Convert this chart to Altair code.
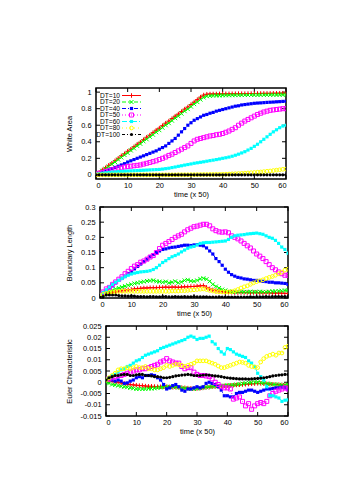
import altair as alt
import pandas as pd

T = list(range(61))
SERIES = ["DT=10", "DT=20", "DT=40", "DT=50", "DT=60", "DT=80", "DT=100"]
COLORS = ["#ff0000", "#00ff00", "#0000ff", "#ff00ff", "#00ffff", "#ffff00", "#000000"]
DASHES = [[1, 0], [4, 2], [4, 2, 1, 2, 1, 2], [1, 2], [5, 2, 1, 2], [1, 3], [3, 2, 1, 2]]
SHAPES = ["M-1,0H1M0,-1V1", "M-1,-1L1,1M-1,1L1,-1", "square", "square", "square", "circle", "circle"]
FILLED = [False, False, True, False, True, False, True]
SIZES = [20, 16, 10, 16, 10, 14, 10]
XTICKS = [0, 10, 20, 30, 40, 50, 60]

# ---------------- White Area ----------------
WA_10 = [0.00, 0.03, 0.06, 0.085, 0.115, 0.14, 0.17, 0.2, 0.23, 0.255,
         0.285, 0.31, 0.34, 0.37, 0.395, 0.425, 0.455, 0.48, 0.51, 0.54,
         0.565, 0.595, 0.625, 0.65, 0.68, 0.71, 0.735, 0.765, 0.795, 0.82,
         0.85, 0.88, 0.91, 0.94, 0.965, 0.975, 0.977, 0.978, 0.978, 0.979,
         0.98, 0.98, 0.98, 0.981, 0.981, 0.982, 0.982, 0.982, 0.983, 0.983,
         0.983, 0.984, 0.984, 0.985, 0.985, 0.985, 0.986, 0.986, 0.987, 0.987, 0.988]
WA_20 = [0.0, 0.02, 0.05, 0.075, 0.1, 0.13, 0.155, 0.185, 0.21, 0.24,
         0.265, 0.295, 0.32, 0.35, 0.375, 0.405, 0.43, 0.46, 0.485, 0.515,
         0.54, 0.57, 0.6, 0.625, 0.655, 0.685, 0.71, 0.74, 0.77, 0.795,
         0.825, 0.855, 0.88, 0.91, 0.935, 0.95, 0.955, 0.958, 0.96, 0.96,
         0.962, 0.962, 0.963, 0.963, 0.964, 0.964, 0.965, 0.965, 0.965, 0.966,
         0.966, 0.966, 0.967, 0.967, 0.967, 0.968, 0.968, 0.968, 0.969, 0.969, 0.97]
WA_40 = [0.0, 0.015, 0.03, 0.045, 0.06, 0.075, 0.09, 0.105, 0.12, 0.135,
         0.155, 0.17, 0.185, 0.2, 0.215, 0.23, 0.245, 0.26, 0.275, 0.29,
         0.31, 0.33, 0.35, 0.38, 0.41, 0.44, 0.48, 0.52, 0.56, 0.6,
         0.63, 0.66, 0.68, 0.70, 0.72, 0.73, 0.745, 0.755, 0.77, 0.78,
         0.79, 0.8, 0.81, 0.82, 0.83, 0.835, 0.845, 0.85, 0.855, 0.86,
         0.865, 0.868, 0.87, 0.873, 0.876, 0.878, 0.88, 0.883, 0.885, 0.888, 0.89]
WA_50 = [0.01, 0.02, 0.03, 0.04, 0.05, 0.06, 0.07, 0.08, 0.085, 0.095,
         0.1, 0.105, 0.11, 0.115, 0.12, 0.13, 0.14, 0.15, 0.16, 0.17,
         0.185, 0.2, 0.215, 0.235, 0.25, 0.27, 0.29, 0.31, 0.33, 0.35,
         0.38, 0.41, 0.43, 0.44, 0.45, 0.46, 0.47, 0.475, 0.485, 0.49,
         0.5, 0.515, 0.53, 0.55, 0.57, 0.6, 0.625, 0.65, 0.67, 0.69,
         0.71, 0.73, 0.745, 0.76, 0.77, 0.78, 0.785, 0.79, 0.795, 0.8, 0.8]
WA_60 = [0.01, 0.015, 0.02, 0.025, 0.03, 0.033, 0.036, 0.039, 0.042, 0.044,
         0.046, 0.048, 0.05, 0.052, 0.054, 0.056, 0.058, 0.06, 0.062, 0.064,
         0.066, 0.07, 0.075, 0.08, 0.088, 0.095, 0.103, 0.11, 0.118, 0.125,
         0.132, 0.14, 0.146, 0.152, 0.158, 0.165, 0.172, 0.178, 0.185, 0.192,
         0.2, 0.207, 0.215, 0.225, 0.237, 0.25, 0.265, 0.28, 0.3, 0.32,
         0.345, 0.37, 0.4, 0.43, 0.46, 0.49, 0.52, 0.545, 0.57, 0.59, 0.6]
WA_80 = [0.0, 0.0, 0.0, 0.0, 0.0, 0.0, 0.0, 0.0, 0.0, 0.0,
         0.0, 0.0, 0.0, 0.0, 0.0, 0.0, 0.0, 0.0, 0.0, 0.0,
         0.0, 0.0, 0.0, 0.0, 0.0, 0.0, 0.001, 0.001, 0.001, 0.001,
         0.002, 0.002, 0.003, 0.003, 0.004, 0.004, 0.005, 0.005, 0.006, 0.006,
         0.007, 0.008, 0.01, 0.012, 0.014, 0.016, 0.018, 0.02, 0.023, 0.026,
         0.029, 0.032, 0.035, 0.039, 0.043, 0.047, 0.052, 0.057, 0.062, 0.067, 0.07]
WA_100 = [0.0] * 61

# ---------------- Boundary Length ----------------
BL_10 = [0.005, 0.01, 0.013, 0.016, 0.018, 0.02, 0.022, 0.024, 0.026, 0.027,
         0.028, 0.03, 0.031, 0.032, 0.033, 0.033, 0.034, 0.034, 0.034, 0.035,
         0.035, 0.036, 0.035, 0.036, 0.036, 0.035, 0.036, 0.037, 0.037, 0.038,
         0.038, 0.039, 0.04, 0.041, 0.035, 0.03, 0.027, 0.025, 0.023, 0.021,
         0.02, 0.019, 0.019, 0.018, 0.018, 0.018, 0.018, 0.018, 0.017, 0.018,
         0.018, 0.017, 0.017, 0.017, 0.017, 0.016, 0.016, 0.016, 0.016, 0.015, 0.015]
BL_20 = [0.008, 0.012, 0.018, 0.022, 0.026, 0.03, 0.033, 0.036, 0.039, 0.042,
         0.045, 0.048, 0.05, 0.052, 0.054, 0.056, 0.057, 0.058, 0.055, 0.054,
         0.052, 0.054, 0.05, 0.052, 0.055, 0.05, 0.053, 0.058, 0.06, 0.056,
         0.055, 0.058, 0.063, 0.065, 0.062, 0.055, 0.045, 0.038, 0.033, 0.028,
         0.025, 0.022, 0.02, 0.02, 0.021, 0.021, 0.02, 0.02, 0.021, 0.02,
         0.02, 0.021, 0.02, 0.02, 0.021, 0.022, 0.022, 0.023, 0.024, 0.025, 0.025]
BL_40 = [0.01, 0.015, 0.025, 0.035, 0.04, 0.05, 0.058, 0.065, 0.072, 0.08,
         0.088, 0.096, 0.104, 0.112, 0.12, 0.128, 0.136, 0.143, 0.15, 0.155,
         0.16, 0.162, 0.165, 0.167, 0.168, 0.17, 0.172, 0.174, 0.174, 0.173,
         0.175, 0.176, 0.174, 0.172, 0.165, 0.155, 0.145, 0.13, 0.12, 0.108,
         0.095, 0.085, 0.077, 0.072, 0.068, 0.066, 0.063, 0.062, 0.06, 0.058,
         0.058, 0.056, 0.055, 0.054, 0.052, 0.052, 0.05, 0.05, 0.049, 0.048, 0.045]
BL_50 = [0.01, 0.02, 0.03, 0.035, 0.045, 0.053, 0.062, 0.07, 0.08, 0.088,
         0.097, 0.105, 0.11, 0.118, 0.122, 0.128, 0.135, 0.14, 0.15, 0.163,
         0.174, 0.18, 0.186, 0.193, 0.2, 0.205, 0.21, 0.218, 0.225, 0.23,
         0.235, 0.237, 0.24, 0.243, 0.243, 0.238, 0.228, 0.222, 0.218, 0.217,
         0.218, 0.215, 0.205, 0.2, 0.195, 0.188, 0.18, 0.172, 0.165, 0.155,
         0.145, 0.138, 0.13, 0.12, 0.11, 0.1, 0.093, 0.086, 0.08, 0.075, 0.075]
BL_60 = [0.01, 0.018, 0.027, 0.036, 0.045, 0.052, 0.058, 0.064, 0.07, 0.075,
         0.079, 0.082, 0.084, 0.086, 0.087, 0.088, 0.09, 0.094, 0.1, 0.108,
         0.117, 0.123, 0.13, 0.136, 0.14, 0.145, 0.152, 0.158, 0.164, 0.168,
         0.17, 0.175, 0.18, 0.182, 0.183, 0.183, 0.184, 0.185, 0.186, 0.187,
         0.188, 0.193, 0.2, 0.205, 0.207, 0.208, 0.209, 0.211, 0.212, 0.213,
         0.214, 0.212, 0.21, 0.205, 0.2, 0.197, 0.19, 0.18, 0.168, 0.16, 0.148]
BL_80 = [0.008, 0.012, 0.015, 0.018, 0.02, 0.021, 0.022, 0.022, 0.022, 0.022,
         0.022, 0.022, 0.022, 0.022, 0.022, 0.022, 0.022, 0.022, 0.022, 0.022,
         0.022, 0.022, 0.022, 0.023, 0.023, 0.023, 0.024, 0.024, 0.025, 0.026,
         0.027, 0.028, 0.029, 0.03, 0.028, 0.025, 0.023, 0.021, 0.02, 0.02,
         0.02, 0.02, 0.021, 0.024, 0.028, 0.033, 0.037, 0.04, 0.045, 0.05,
         0.054, 0.057, 0.06, 0.064, 0.068, 0.071, 0.075, 0.08, 0.085, 0.092, 0.095]
BL_100 = [0.002, 0.005, 0.01, 0.01, 0.01, 0.01, 0.008, 0.007, 0.007, 0.006,
          0.007, 0.006, 0.005, 0.005, 0.005, 0.004, 0.005, 0.005, 0.004, 0.004,
          0.005, 0.005, 0.004, 0.004, 0.005, 0.004, 0.004, 0.005, 0.004, 0.004,
          0.005, 0.004, 0.004, 0.004, 0.004, 0.003, 0.003, 0.003, 0.004, 0.003,
          0.003, 0.003, 0.003, 0.003, 0.003, 0.003, 0.003, 0.003, 0.004, 0.003,
          0.004, 0.004, 0.004, 0.005, 0.004, 0.005, 0.005, 0.005, 0.005, 0.005, 0.005]

# ---------------- Euler Characteristic ----------------
EC_10 = [0.001, 0.0008, 0.0005, 0.0002, 0.0, -0.0003, -0.0005, -0.0008, -0.001, -0.0012,
         -0.0013, -0.0015, -0.0015, -0.0017, -0.0018, -0.0018, -0.0019, -0.002, -0.002, -0.002,
         -0.002, -0.0021, -0.0022, -0.0022, -0.0023, -0.0024, -0.0025, -0.0026, -0.0027, -0.0028,
         -0.0028, -0.0027, -0.0025, -0.0023, -0.0022, -0.002, -0.0019, -0.0018, -0.0017, -0.0016,
         -0.0015, -0.0014, -0.0013, -0.0012, -0.0011, -0.001, -0.0009, -0.0008, -0.0007, -0.0006,
         -0.0005, -0.0005, -0.0006, -0.0007, -0.0008, -0.0009, -0.001, -0.0011, -0.0012, -0.0013, -0.0015]
EC_20 = [0.0, -0.0005, -0.001, -0.0012, -0.0015, -0.0018, -0.002, -0.0022, -0.0025, -0.0027,
         -0.003, -0.003, -0.003, -0.003, -0.0028, -0.0028, -0.0027, -0.0025, -0.0023, -0.0022,
         -0.002, -0.002, -0.0021, -0.0022, -0.0023, -0.0025, -0.0027, -0.0028, -0.003, -0.003,
         -0.0028, -0.0026, -0.0024, -0.0022, -0.002, -0.0019, -0.0018, -0.0017, -0.0016, -0.0015,
         -0.0014, -0.0013, -0.0012, -0.001, -0.0008, -0.0006, -0.0004, -0.0002, -0.0001, 0.0,
         0.0, -0.0002, -0.0004, -0.0006, -0.0008, -0.001, -0.001, -0.0011, -0.0012, -0.0012, -0.001]
EC_40 = [0.001, 0.0015, 0.001, 0.0005, 0.001, 0.0005, -0.0005, -0.0003, 0.0005, 0.001,
         0.002, 0.0025, 0.002, 0.003, 0.003, 0.0033, 0.003, 0.002, 0.001, -0.001,
         -0.003, -0.0025, -0.0015, -0.001, -0.002, -0.0035, -0.004, -0.003, -0.003, -0.0025,
         -0.002, -0.0025, -0.002, -0.0005, 0.0, -0.0005, -0.001, -0.002, -0.0035, -0.006,
         -0.006, -0.0065, -0.0065, -0.005, -0.0045, -0.0045, -0.004, -0.0035, -0.0035, -0.004,
         -0.0045, -0.004, -0.0035, -0.003, -0.003, -0.0028, -0.0025, -0.0025, -0.0022, -0.0025, -0.003]
EC_50 = [0.0015, 0.0015, 0.002, 0.0025, 0.003, 0.003, 0.0035, 0.004, 0.0045, 0.005,
         0.0055, 0.0055, 0.006, 0.006, 0.0065, 0.007, 0.0075, 0.008, 0.009, 0.0095,
         0.0105, 0.0095, 0.009, 0.0085, 0.0085, 0.007, 0.006, 0.0065, 0.0065, 0.0045,
         0.0035, 0.003, 0.003, 0.0028, 0.0025, 0.0015, 0.0, -0.001, -0.002, -0.0025,
         -0.0025, -0.003, -0.0075, -0.007, -0.0065, -0.0085, -0.0105, -0.0095, -0.012, -0.0105,
         -0.0095, -0.009, -0.0095, -0.0085, -0.006, -0.005, -0.004, -0.0035, -0.003, -0.0025, -0.003]
EC_60 = [0.0015, 0.002, 0.003, 0.0035, 0.0045, 0.0055, 0.006, 0.007, 0.0075, 0.0085,
         0.0095, 0.01, 0.011, 0.012, 0.0125, 0.013, 0.0135, 0.014, 0.015, 0.0155,
         0.016, 0.0165, 0.017, 0.0175, 0.018, 0.0185, 0.019, 0.02, 0.0205, 0.02,
         0.019, 0.0195, 0.0195, 0.02, 0.0205, 0.018, 0.017, 0.015, 0.0135, 0.0125,
         0.015, 0.0145, 0.0135, 0.0125, 0.012, 0.0115, 0.011, 0.0095, 0.0085, 0.007,
         0.004, 0.0025, 0.001, -0.002, -0.006, -0.006, -0.0065, -0.007, -0.0085, -0.008, -0.0078]
EC_80 = [0.001, 0.002, 0.003, 0.004, 0.0055, 0.006, 0.006, 0.0065, 0.006, 0.0065,
         0.007, 0.0065, 0.0065, 0.007, 0.006, 0.006, 0.0055, 0.0055, 0.006, 0.0065,
         0.0075, 0.007, 0.0075, 0.008, 0.0078, 0.0075, 0.007, 0.0075, 0.008, 0.0085,
         0.0095, 0.0095, 0.0095, 0.0095, 0.009, 0.0085, 0.008, 0.0072, 0.0065, 0.0065,
         0.007, 0.0075, 0.008, 0.0085, 0.009, 0.0088, 0.0085, 0.0075, 0.007, 0.0068,
         0.0065, 0.009, 0.0105, 0.0115, 0.012, 0.0125, 0.012, 0.013, 0.013, 0.0155, 0.016]
EC_100 = [0.001, 0.002, 0.0025, 0.003, 0.003, 0.0033, 0.0035, 0.0035, 0.003, 0.003,
          0.0033, 0.0035, 0.0035, 0.003, 0.003, 0.0028, 0.0025, 0.0025, 0.0023, 0.002,
          0.002, 0.0022, 0.0025, 0.0028, 0.003, 0.0032, 0.0033, 0.0035, 0.0033, 0.003,
          0.003, 0.003, 0.0032, 0.0033, 0.0032, 0.003, 0.0028, 0.0027, 0.0025, 0.0022,
          0.002, 0.0018, 0.0017, 0.0016, 0.0015, 0.0015, 0.0015, 0.0014, 0.0015, 0.0016,
          0.0017, 0.0018, 0.002, 0.0022, 0.0025, 0.0028, 0.003, 0.0032, 0.0033, 0.0035, 0.0035]

WA = [WA_10, WA_20, WA_40, WA_50, WA_60, WA_80, WA_100]
BL = [BL_10, BL_20, BL_40, BL_50, BL_60, BL_80, BL_100]
EC = [EC_10, EC_20, EC_40, EC_50, EC_60, EC_80, EC_100]

WA_TICKS = [0, 0.2, 0.4, 0.6, 0.8, 1]
BL_TICKS = [0, 0.05, 0.1, 0.15, 0.2, 0.25, 0.3]
EC_TICKS = [-0.015, -0.01, -0.005, 0, 0.005, 0.01, 0.015, 0.02, 0.025]

FONT = "Liberation Sans"
FS = 7.4
LEG_FS = 6.6
TICK = 4


def panel(series_vals, ydom, yticks, ytitle, w, h, legend=False):
    xe = alt.X("t:Q", scale=alt.Scale(domain=[0, 60], nice=False, zero=False),
               axis=alt.Axis(values=XTICKS, title="time (x 50)", labelPadding=2, titlePadding=2))
    ye = alt.Y("v:Q", scale=alt.Scale(domain=ydom, nice=False, zero=False),
               axis=alt.Axis(values=yticks, title=ytitle, labelExpr="toString(datum.value)",
                             labelPadding=5, titlePadding=7))
    layers = []
    # inward ticks on all four sides
    ydf = pd.DataFrame({"v": yticks})
    xdf = pd.DataFrame({"t": XTICKS})
    layers.append(alt.Chart(ydf).mark_rule(color="black", strokeWidth=1).encode(
        y=ye, x=alt.value(0), x2=alt.value(TICK)))
    layers.append(alt.Chart(ydf).mark_rule(color="black", strokeWidth=1).encode(
        y=ye, x=alt.value(w - TICK), x2=alt.value(w)))
    layers.append(alt.Chart(xdf).mark_rule(color="black", strokeWidth=1).encode(
        x=xe, y=alt.value(h), y2=alt.value(h - TICK)))
    layers.append(alt.Chart(xdf).mark_rule(color="black", strokeWidth=1).encode(
        x=xe, y=alt.value(0), y2=alt.value(TICK)))
    for i, vals in enumerate(series_vals):
        d = pd.DataFrame({"t": T, "v": vals})
        base = alt.Chart(d)
        layers.append(base.mark_line(color=COLORS[i], strokeWidth=1, strokeDash=DASHES[i],
                                     clip=True).encode(x=xe, y=ye))
        layers.append(base.mark_point(shape=SHAPES[i], filled=FILLED[i], color=COLORS[i],
                                      size=SIZES[i], strokeWidth=1, opacity=1,
                                      clip=True).encode(x=xe, y=ye))
    if legend:
        dummy = pd.DataFrame({"k": [0]})
        for i, s in enumerate(SERIES):
            yy = 7.5 + 6.5 * i
            layers.append(alt.Chart(dummy).mark_text(align="right", baseline="middle",
                                                     font=FONT, fontSize=LEG_FS, color="black").encode(
                x=alt.value(24), y=alt.value(yy), text=alt.value(s)))
            layers.append(alt.Chart(dummy).mark_rule(color=COLORS[i], strokeWidth=1,
                                                     strokeDash=DASHES[i]).encode(
                x=alt.value(26), x2=alt.value(45), y=alt.value(yy)))
            layers.append(alt.Chart(dummy).mark_point(shape=SHAPES[i], filled=FILLED[i],
                                                      color=COLORS[i], size=SIZES[i],
                                                      strokeWidth=1, opacity=1).encode(
                x=alt.value(35.5), y=alt.value(yy)))
    return alt.layer(*layers).properties(width=w, height=h)


def spacer():
    return alt.Chart(pd.DataFrame({"k": [0]})).mark_point(opacity=0).encode(
        x=alt.value(0), y=alt.value(0)
    ).properties(width=1, height=1, view=alt.ViewConfig(stroke="transparent"))


p1 = panel(WA, [-0.05, 1.05], WA_TICKS, "White Area", 190, 91, legend=True)
p2 = panel(BL, [0, 0.3], BL_TICKS, "Boundary Length", 188, 91)
p3 = panel(EC, [-0.015, 0.025], EC_TICKS, "Euler Characteristic", 182, 90)

rows = [alt.hconcat(spacer(), p, spacing=0) for p in (p1, p2, p3)]

chart = alt.vconcat(*rows, spacing=3).properties(
    padding={"left": 48, "top": 76, "right": 5, "bottom": 5},
    background="white",
).configure_view(
    stroke="black", strokeWidth=1.5
).configure_axis(
    ticks=False, domain=False, grid=False,
    labelFont=FONT, labelFontSize=FS, labelColor="black",
    titleFont=FONT, titleFontSize=FS, titleColor="black", titleFontWeight="normal",
)

chart.save("out.html", embed_options={"renderer": "svg", "actions": False})
